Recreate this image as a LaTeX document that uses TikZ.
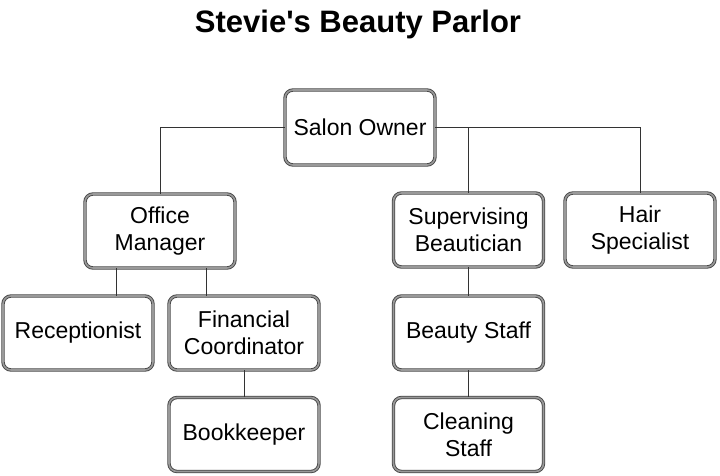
\documentclass[tikz,border=0pt]{standalone}
\usepackage{fontspec}
\setmainfont{Liberation Sans}[Ligatures=TeXOff]
\begin{document}
\begin{tikzpicture}[x=1pt,y=-1pt,
  box/.style={draw=black!72, double=black!40, double distance=1.6pt, line width=0.9pt,
    rounded corners=8pt, minimum width=150pt, minimum height=74pt, inner sep=0pt,
    align=center, font=\fontsize{23}{27}\selectfont},
  conn/.style={draw=black!80, line width=1pt}]
\useasboundingbox[fill=white] (0,0) rectangle (720,475);
\node[font=\bfseries\fontsize{31}{36}\selectfont, anchor=base] (title) at (358,32) {Stevie's Beauty Parlor};
\node[box, minimum height=75pt] (so) at (360,127.5) {Salon Owner};
\node[box] (om) at (160,231) {Office\\Manager};
\node[box] (sb) at (468.5,230) {Supervising\\Beautician};
\node[box] (hs) at (640,230) {Hair\\Specialist};
\node[box] (rc) at (78,333) {Receptionist};
\node[box] (fc) at (244,333) {Financial\\Coordinator};
\node[box] (bs) at (468.5,333) {Beauty Staff};
\node[box] (bk) at (244,434.5) {Bookkeeper};
\node[box] (cs) at (468.5,434.5) {Cleaning\\Staff};
\coordinate (a1) at ([xshift=-44pt]om.south);
\coordinate (a2) at ([xshift=46pt]om.south);
\draw[conn] (so.west) -| (om.north);
\draw[conn] (so.east) -| (hs.north);
\draw[conn] (sb.north) -- (sb.north |- so.east);
\draw[conn] (a1) -- (a1 |- rc.north);
\draw[conn] (a2) -- (a2 |- fc.north);
\draw[conn] (fc.south) -- (bk.north);
\draw[conn] (sb.south) -- (bs.north);
\draw[conn] (bs.south) -- (cs.north);
\end{tikzpicture}
\end{document}
